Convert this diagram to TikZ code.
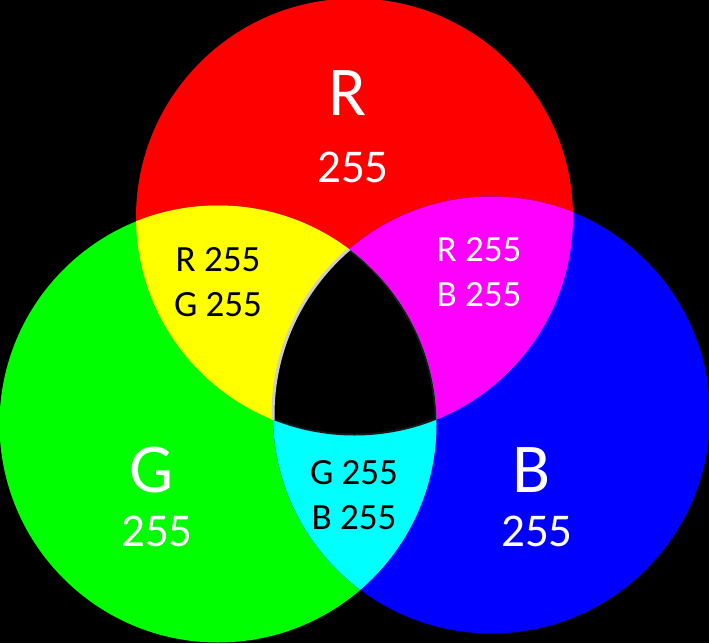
\documentclass[tikz,border=0pt]{standalone}
\usepackage{fontspec}
\setmainfont{Carlito}
\definecolor{cR}{RGB}{255,0,0}
\definecolor{cG}{RGB}{0,255,0}
\definecolor{cB}{RGB}{0,0,255}
\definecolor{cY}{RGB}{255,255,0}
\definecolor{cM}{RGB}{255,0,255}
\definecolor{cC}{RGB}{0,255,255}
\begin{document}
\begin{tikzpicture}[x=1pt,y=-1pt,
  big/.style={text=white,font=\fontsize{70}{70}\selectfont,inner sep=0pt},
  num/.style={text=white,font=\fontsize{47}{47}\selectfont,inner sep=0pt},
  lbl/.style={font=\fontsize{37}{37}\selectfont,inner sep=0pt}]
\fill[black] (0,0) rectangle (709,643);
\useasboundingbox (0,0) rectangle (709,643);
\def\rr{218.5}
\coordinate (cr) at (354.5,217);
\coordinate (cg) at (218,424);
\coordinate (cb) at (491.5,415);
% primaries
\fill[cR] (cr) circle[radius=\rr];
\fill[cG] (cg) circle[radius=\rr];
\fill[cB] (cb) circle[radius=\rr];
% secondaries
\begin{scope}
  \clip (cr) circle[radius=\rr];
  \fill[cY] (cg) circle[radius=\rr];
  \fill[cM] (cb) circle[radius=\rr];
\end{scope}
\begin{scope}
  \clip (cg) circle[radius=\rr];
  \fill[cC] (cb) circle[radius=\rr];
\end{scope}
% centre
\begin{scope}
  \clip (cr) circle[radius=\rr];
  \clip (cg) circle[radius=\rr];
  \fill[black!90!white, draw=gray!40, line width=3pt] (cb) circle[radius=\rr];
\end{scope}
\begin{scope}
  \clip (cr) circle[radius=\rr-2];
  \clip (cg) circle[radius=\rr-2];
  \fill[black] (cb) circle[radius=\rr-2];
\end{scope}
% labels
\node[big] (Rl) at (347,93) {R};
\node[num] (Rn) at (353,167) {255};
\node[big] (Gl) at (152,470) {G};
\node[num] (Gn) at (157,531) {255};
\node[big] (Bl) at (532,470) {B};
\node[num] (Bn) at (537,531) {255};
\node[lbl] (y1) at (218,260) {R 255};
\node[lbl] (y2) at (218,305) {G 255};
\node[lbl,text=white] (m1) at (479,250) {R 255};
\node[lbl,text=white] (m2) at (479,295) {B 255};
\node[lbl] (c1) at (354,473) {G 255};
\node[lbl] (c2) at (354,518) {B 255};
\end{tikzpicture}
\end{document}
